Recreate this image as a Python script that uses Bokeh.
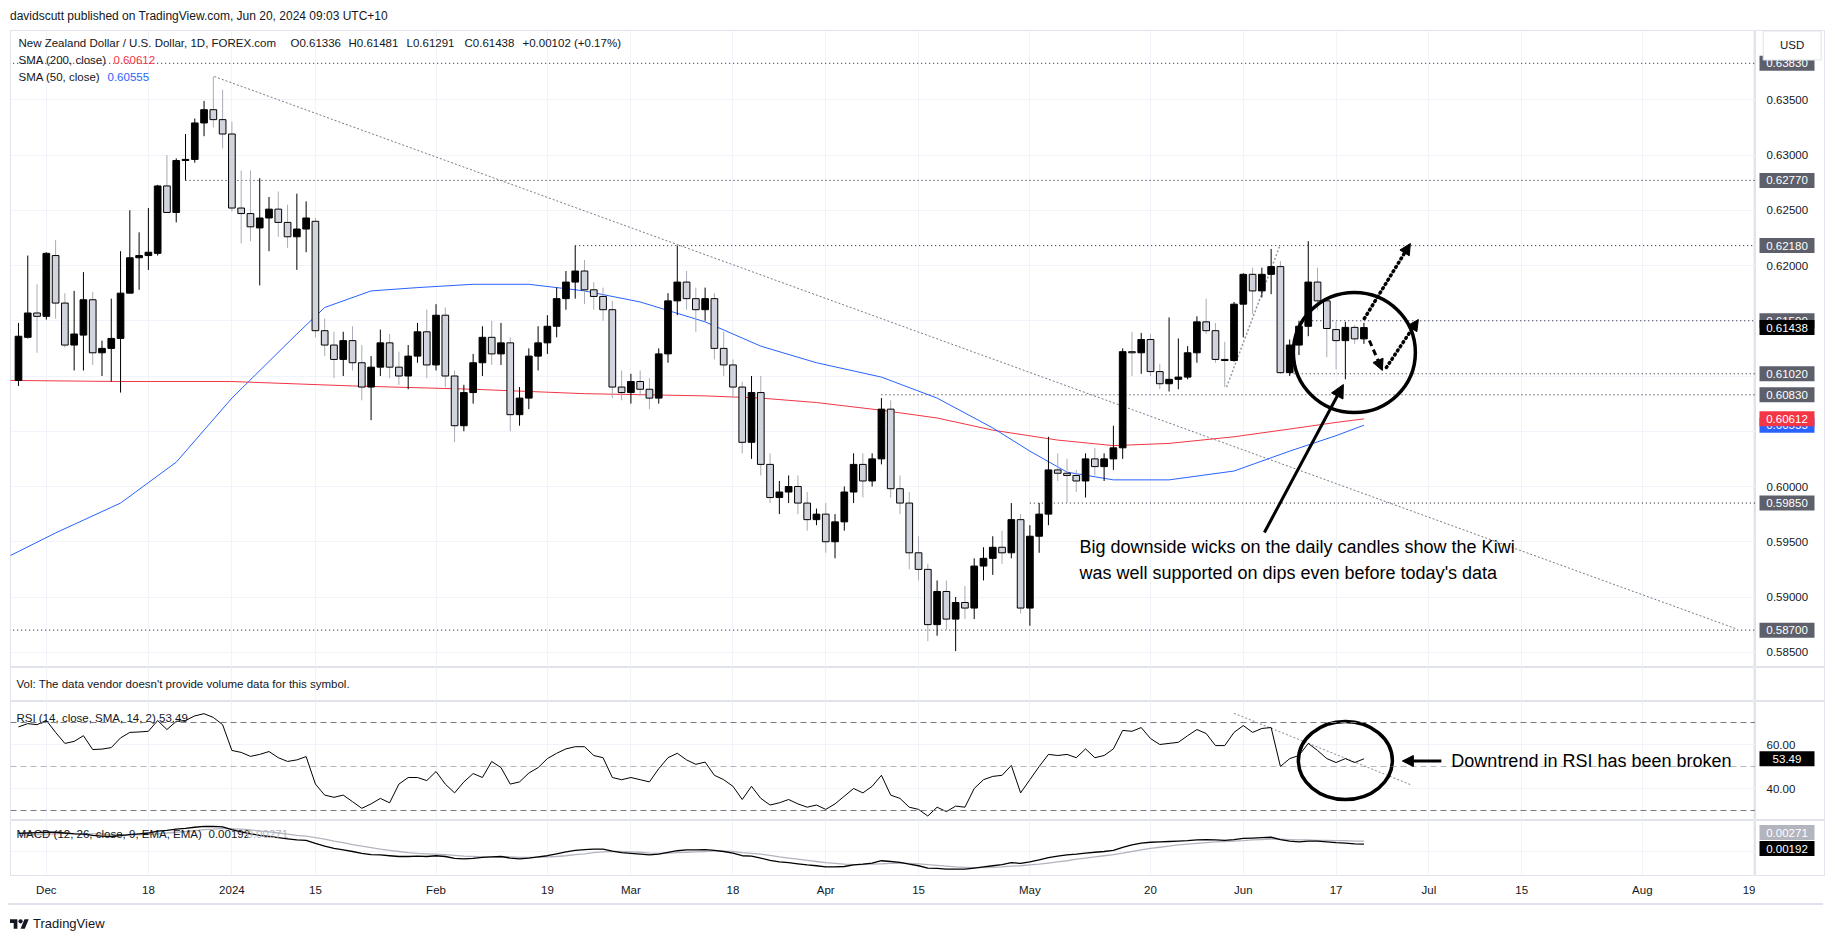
from bokeh.plotting import figure
from bokeh.layouts import column, row
from bokeh.models import (Range1d, Label, ColumnDataSource, FixedTicker, Div,
                          Arrow, NormalHead, Span)
from bokeh.core.properties import value
from bokeh.embed import file_html
from bokeh.resources import INLINE

# ---------------- data ----------------
bar_index = list(range(-3, 143))   # trading-day index, 0 = 1 Dec 2023

opens = [
    0.6096, 0.6135, 0.6157, 0.6154, 0.6209, 0.6166, 0.6128, 0.6137, 0.6169, 0.6121,
    0.6125, 0.6134, 0.6175, 0.6207, 0.6209, 0.6211, 0.6272, 0.6248, 0.6295, 0.6296,
    0.6329, 0.6341, 0.6332, 0.6319, 0.6252, 0.6247, 0.6234, 0.6243, 0.6251, 0.6239,
    0.6226, 0.6233, 0.6240, 0.6141, 0.6128, 0.6115, 0.6132, 0.6112, 0.6090, 0.6108,
    0.6130, 0.6108, 0.6100, 0.6118, 0.6140, 0.6110, 0.6155, 0.6100, 0.6055, 0.6085,
    0.6112, 0.6135, 0.6120, 0.6130, 0.6065, 0.6080, 0.6118, 0.6130, 0.6145, 0.6170,
    0.6185, 0.6195, 0.6178, 0.6172, 0.6160, 0.6090, 0.6085, 0.6095, 0.6088, 0.6080,
    0.6120, 0.6168, 0.6185, 0.6170, 0.6160, 0.6170, 0.6125, 0.6110, 0.6090, 0.6040,
    0.6085, 0.6020, 0.5990, 0.5995, 0.6000, 0.5985, 0.5970, 0.5975, 0.5950, 0.5968,
    0.5995, 0.6020, 0.6005, 0.6025, 0.6070, 0.5998, 0.5985, 0.5940, 0.5925, 0.5875,
    0.5905, 0.5880, 0.5895, 0.5890, 0.5928, 0.5935, 0.5945, 0.5940, 0.5970, 0.5890,
    0.5955, 0.5975, 0.6015, 0.6012, 0.6010, 0.6005, 0.6025, 0.6018, 0.6025, 0.6035,
    0.6122, 0.6121, 0.6133, 0.6104, 0.6093, 0.6097, 0.6099, 0.6121, 0.6149, 0.6141,
    0.6115, 0.6114, 0.6165, 0.6192, 0.6177, 0.6192, 0.6199, 0.6103, 0.6128, 0.6145,
    0.6185, 0.6168, 0.6142, 0.6132, 0.6144, 0.61336]

highs = [
    0.6148, 0.6209, 0.6183, 0.6212, 0.6223, 0.6175, 0.6177, 0.6194, 0.6176, 0.6132,
    0.6170, 0.6213, 0.6250, 0.6230, 0.6252, 0.6273, 0.6300, 0.6297, 0.6319, 0.6333,
    0.6349, 0.6371, 0.6359, 0.6330, 0.6286, 0.6286, 0.6279, 0.6262, 0.6267, 0.6255,
    0.6265, 0.6258, 0.6243, 0.6152, 0.6140, 0.6140, 0.6145, 0.6128, 0.6118, 0.6142,
    0.6138, 0.6122, 0.6128, 0.6148, 0.6160, 0.6165, 0.6162, 0.6105, 0.6092, 0.6120,
    0.6145, 0.6150, 0.6148, 0.6135, 0.6090, 0.6125, 0.6145, 0.6155, 0.6180, 0.6195,
    0.6218, 0.6205, 0.6185, 0.6180, 0.6168, 0.6105, 0.6102, 0.6105, 0.6098, 0.6125,
    0.6175, 0.6218, 0.6195, 0.6180, 0.6180, 0.6175, 0.6140, 0.6115, 0.6095, 0.6100,
    0.6100, 0.6030, 0.6005, 0.6010, 0.6010, 0.5995, 0.5980, 0.5985, 0.5975, 0.6000,
    0.6030, 0.6030, 0.6030, 0.6080, 0.6078, 0.6010, 0.5995, 0.5955, 0.5930, 0.5915,
    0.5915, 0.5900, 0.5910, 0.5935, 0.5945, 0.5955, 0.5960, 0.5985, 0.5975, 0.5965,
    0.5985, 0.6045, 0.6030, 0.6025, 0.6015, 0.6030, 0.6035, 0.6030, 0.6055, 0.6125,
    0.6140, 0.6139, 0.6138, 0.6111, 0.6153, 0.6134, 0.6127, 0.6154, 0.6170, 0.6148,
    0.6131, 0.6167, 0.6193, 0.6198, 0.6198, 0.6215, 0.6204, 0.6133, 0.6150, 0.6222,
    0.6198, 0.6170, 0.6149, 0.6149, 0.6146, 0.61481]

lows = [
    0.6091, 0.6134, 0.6121, 0.6151, 0.6152, 0.6126, 0.6105, 0.6105, 0.6110, 0.6100,
    0.6095, 0.6085, 0.6175, 0.6178, 0.6196, 0.6209, 0.6248, 0.6239, 0.6277, 0.6293,
    0.6317, 0.6325, 0.6306, 0.6249, 0.6220, 0.6222, 0.6182, 0.6213, 0.6226, 0.6216,
    0.6196, 0.6212, 0.6135, 0.6118, 0.6098, 0.6100, 0.6105, 0.6078, 0.6060, 0.6100,
    0.6098, 0.6092, 0.6088, 0.6112, 0.6098, 0.6105, 0.6090, 0.6040, 0.6050, 0.6075,
    0.6100, 0.6110, 0.6110, 0.6050, 0.6055, 0.6070, 0.6105, 0.6120, 0.6135, 0.6160,
    0.6170, 0.6165, 0.6160, 0.6150, 0.6080, 0.6078, 0.6075, 0.6082, 0.6070, 0.6075,
    0.6112, 0.6155, 0.6160, 0.6140, 0.6150, 0.6115, 0.6100, 0.6080, 0.6030, 0.6025,
    0.6010, 0.5985, 0.5975, 0.5985, 0.5975, 0.5960, 0.5965, 0.5940, 0.5935, 0.5960,
    0.5985, 0.5990, 0.6000, 0.6020, 0.5990, 0.5975, 0.5925, 0.5915, 0.5860, 0.5865,
    0.5870, 0.5851, 0.5880, 0.5880, 0.5915, 0.5920, 0.5930, 0.5935, 0.5885, 0.5874,
    0.5940, 0.5965, 0.6005, 0.5985, 0.5995, 0.5990, 0.6010, 0.6005, 0.6015, 0.6025,
    0.6100, 0.6102, 0.6100, 0.6088, 0.6086, 0.6088, 0.6097, 0.6112, 0.6138, 0.6112,
    0.6090, 0.6113, 0.6135, 0.6156, 0.6171, 0.6174, 0.6102, 0.6100, 0.6119, 0.6136,
    0.6160, 0.6117, 0.6106, 0.6097, 0.6129, 0.61291]

closes = [
    0.6136, 0.6157, 0.6154, 0.6211, 0.6166, 0.6128, 0.6138, 0.6169, 0.6121, 0.6125,
    0.6134, 0.6175, 0.6207, 0.6209, 0.6212, 0.6272, 0.6248, 0.6295, 0.6296, 0.6329,
    0.6341, 0.6332, 0.6319, 0.6252, 0.6247, 0.6235, 0.6243, 0.6251, 0.6239, 0.6226,
    0.6233, 0.6243, 0.6141, 0.6128, 0.6115, 0.6132, 0.6112, 0.6090, 0.6108, 0.6130,
    0.6108, 0.6100, 0.6118, 0.6140, 0.6110, 0.6155, 0.6100, 0.6055, 0.6085, 0.6112,
    0.6135, 0.6120, 0.6130, 0.6065, 0.6080, 0.6118, 0.6130, 0.6145, 0.6170, 0.6185,
    0.6195, 0.6178, 0.6172, 0.6160, 0.6090, 0.6085, 0.6095, 0.6088, 0.6080, 0.6120,
    0.6168, 0.6185, 0.6170, 0.6160, 0.6170, 0.6125, 0.6110, 0.6090, 0.6040, 0.6085,
    0.6020, 0.5990, 0.5995, 0.6000, 0.5985, 0.5970, 0.5975, 0.5950, 0.5968, 0.5995,
    0.6020, 0.6005, 0.6025, 0.6070, 0.5998, 0.5985, 0.5940, 0.5925, 0.5875, 0.5905,
    0.5880, 0.5895, 0.5890, 0.5928, 0.5935, 0.5945, 0.5940, 0.5970, 0.5890, 0.5955,
    0.5975, 0.6015, 0.6012, 0.6010, 0.6005, 0.6025, 0.6018, 0.6025, 0.6035, 0.6122,
    0.6121, 0.6133, 0.6104, 0.6093, 0.6097, 0.6099, 0.6121, 0.6149, 0.6141, 0.6115,
    0.6114, 0.6165, 0.6192, 0.6177, 0.6192, 0.6199, 0.6103, 0.6128, 0.6145, 0.6185,
    0.6168, 0.6143, 0.6132, 0.6144, 0.61336, 0.61438]

rsi = [
    68, 69.5, 69, 71, 65.5, 60.5, 61.4, 64, 57.7, 57.9,
    58.6, 63, 65.5, 65.7, 66, 70.9, 66.8, 70.5, 70.9, 73,
    74, 72.3, 69, 57.3, 56.4, 54.6, 55.5, 56.8, 54, 52.3,
    53, 54.5, 42, 37, 36, 37, 34, 31, 33, 35.5,
    33.5, 42, 45, 45, 43.6, 47.7, 42, 38, 43, 46.8,
    45, 52.3, 49.5, 42, 43, 47, 49.5, 53.6, 56, 58,
    59, 59, 55, 54, 45, 44, 45, 44, 43, 49,
    54, 56, 53, 51, 52, 46, 44, 41, 35, 41,
    35.5, 32.5, 33.5, 35, 33, 31.5, 32.5, 30.5, 33, 36.5,
    40, 38, 41, 46, 37, 35.5, 31.5, 30.5, 27.5, 31.5,
    29.5, 32, 31.5, 40, 44, 45.5, 46, 50.5, 38, 44,
    50, 55.5, 55, 55.5, 54, 58, 54, 55, 58, 66.4,
    66, 67.7, 62.7, 60, 60.5, 61, 64, 66.8, 65, 59.5,
    59.5, 65.5, 68.6, 65.5, 67.3, 67.7, 50, 53.6, 55, 60.5,
    57.3, 53.6, 51.8, 53.6, 51.8, 53.49]

macd_line = [
    0.0047, 0.0048, 0.0049, 0.0050, 0.0050, 0.0048, 0.0046, 0.0045, 0.0042, 0.0040,
    0.0039, 0.0041, 0.0044, 0.0046, 0.0048, 0.0053, 0.0055, 0.0058, 0.0060, 0.0063,
    0.0065, 0.0065, 0.0064, 0.0057, 0.0051, 0.0046, 0.0042, 0.0039, 0.0036, 0.0033,
    0.0030, 0.0029, 0.0021, 0.0014, 0.0008, 0.0004, 0.0000, -0.0005, -0.0008, -0.0009,
    -0.0011, -0.0013, -0.0013, -0.0012, -0.0013, -0.0011, -0.0013, -0.0018, -0.0019, -0.0018,
    -0.0015, -0.0014, -0.0013, -0.0017, -0.0019, -0.0017, -0.0014, -0.0011, -0.0006, -0.0001,
    0.0003, 0.0005, 0.0006, 0.0006, 0.0001, -0.0003, -0.0005, -0.0007, -0.0009, -0.0007,
    -0.0002, 0.0002, 0.0004, 0.0004, 0.0005, 0.0003, 0.0000, -0.0004, -0.0011, -0.0012,
    -0.0017, -0.0023, -0.0027, -0.0029, -0.0032, -0.0035, -0.0037, -0.0040, -0.0040, -0.0039,
    -0.0035, -0.0033, -0.0030, -0.0024, -0.0026, -0.0028, -0.0033, -0.0037, -0.0043, -0.0044,
    -0.0046, -0.0046, -0.0046, -0.0043, -0.0040, -0.0037, -0.0034, -0.0029, -0.0031, -0.0027,
    -0.0022, -0.0016, -0.0012, -0.0009, -0.0007, -0.0004, -0.0002, 0.0000, 0.0003, 0.0011,
    0.0017, 0.0022, 0.0024, 0.0025, 0.0026, 0.0027, 0.0028, 0.0030, 0.0031, 0.0030,
    0.0029, 0.0031, 0.0034, 0.0035, 0.0036, 0.0037, 0.0031, 0.0027, 0.0025, 0.0027,
    0.0027, 0.0025, 0.0023, 0.0022, 0.0020, 0.00192]

macd_signal = [
    0.0042, 0.0043, 0.0044, 0.0045, 0.0046, 0.0047, 0.0047, 0.0046, 0.0046, 0.0045,
    0.0044, 0.0043, 0.0043, 0.0044, 0.0044, 0.0046, 0.0048, 0.0050, 0.0052, 0.0054,
    0.0057, 0.0058, 0.0060, 0.0059, 0.0058, 0.0056, 0.0053, 0.0051, 0.0048, 0.0045,
    0.0042, 0.0040, 0.0036, 0.0032, 0.0027, 0.0023, 0.0018, 0.0014, 0.0010, 0.0006,
    0.0003, 0.0000, -0.0003, -0.0005, -0.0006, -0.0007, -0.0008, -0.0010, -0.0012, -0.0013,
    -0.0014, -0.0014, -0.0014, -0.0014, -0.0015, -0.0015, -0.0015, -0.0014, -0.0013, -0.0011,
    -0.0008, -0.0006, -0.0003, -0.0001, 0.0000, 0.0000, -0.0001, -0.0002, -0.0004, -0.0005,
    -0.0004, -0.0003, -0.0002, -0.0001, 0.0000, 0.0001, 0.0001, 0.0000, -0.0003, -0.0005,
    -0.0007, -0.0010, -0.0014, -0.0017, -0.0020, -0.0023, -0.0026, -0.0029, -0.0031, -0.0033,
    -0.0034, -0.0034, -0.0033, -0.0032, -0.0031, -0.0030, -0.0031, -0.0032, -0.0034, -0.0036,
    -0.0038, -0.0040, -0.0041, -0.0042, -0.0042, -0.0041, -0.0040, -0.0038, -0.0037, -0.0035,
    -0.0033, -0.0030, -0.0027, -0.0024, -0.0020, -0.0017, -0.0014, -0.0011, -0.0008, -0.0004,
    0.0000, 0.0004, 0.0008, 0.0011, 0.0014, 0.0017, 0.0019, 0.0021, 0.0023, 0.0025,
    0.0026, 0.0027, 0.0028, 0.0030, 0.0031, 0.0032, 0.0032, 0.0031, 0.0030, 0.0030,
    0.0029, 0.0029, 0.0028, 0.0028, 0.0027, 0.00271]

sma200_idx = [-4, 8, 20, 33, 46, 58, 71, 77, 83, 90, 96, 102, 109, 115, 121, 128, 134, 139, 142]
sma200 = [0.6096, 0.6095, 0.6095, 0.6091, 0.6088, 0.6084, 0.6082, 0.6080, 0.6076, 0.6069,
          0.6062, 0.6051, 0.6042, 0.6037, 0.6039, 0.6045, 0.6052, 0.6058, 0.60612]

sma50_idx = [-4, 1, 8, 14, 20, 27, 30, 35, 40, 46, 52, 58, 64, 71, 77, 83, 90, 96,
             102, 106, 110, 115, 121, 128, 134, 139, 142]
sma50 = [0.5937, 0.5958, 0.5985, 0.6022, 0.6080, 0.6138, 0.6162, 0.6177, 0.6180, 0.6183,
         0.6183, 0.6177, 0.6167, 0.6149, 0.6127, 0.6112, 0.6099, 0.6080, 0.6053, 0.6032,
         0.6013, 0.6006, 0.6006, 0.6014, 0.6032, 0.6046, 0.60555]

date_ticks = [0, 11, 20, 29, 42, 54, 63, 74, 84, 94, 106, 119, 129, 139, 149, 159, 172, 184]
date_labels = ["Dec", "18", "2024", "15", "Feb", "19", "Mar", "18", "Apr", "15",
               "May", "20", "Jun", "17", "Jul", "15", "Aug", "19"]

price_grid = [0.585, 0.59, 0.595, 0.6, 0.605, 0.61, 0.615, 0.62, 0.625, 0.63, 0.635]
price_ticks_shown = [0.585, 0.59, 0.595, 0.6, 0.62, 0.625, 0.63, 0.635]
price_tick_text = ["0.58500", "0.59000", "0.59500", "0.60000", "0.62000", "0.62500",
                   "0.63000", "0.63500"]

level_prices = [0.6383, 0.6277, 0.6218, 0.6150, 0.6102, 0.6083, 0.5985, 0.5870]
level_from = [-4, 15, 57, 136, 134, 90, 106, -4]
level_text = ["0.63830", "0.62770", "0.62180", "0.61500", "0.61020", "0.60830", "0.59850", "0.58700"]

trend_idx = [18.1, 182.2]
trend_px = [0.6371, 0.5871]
trend2_idx = [127.2, 132.9]
trend2_px = [0.6090, 0.6217]
rsi_trend_idx = [128.0, 147.0]
rsi_trend_val = [74.2, 41.8]

rsi_ticks = [40, 60]
rsi_tick_text = ["40.00", "60.00"]
rsi_bands = [70, 50, 30]
macd_ticks = [0.0]
macd_tick_text = ["0.00000"]

last_close = 0.61438
sma200_last = 0.60612
sma50_last = 0.60555
rsi_last = 53.49
macd_last = 0.00192
signal_last = 0.00271

# ---------------- style / geometry ----------------
TEXT = "#131722"
GRID = "#f0f3fa"
BORDER = "#e0e3eb"
UI_FONT = "Liberation Sans"
PAGE_W = 1817
AXIS_W = 70
LEFT_B = 2
X_START, X_END = -3.86, 184.2


def bx(px):   # reference pixel column -> bar index
    return (px - 45.8) / 9.28


def py(px):   # main pane pixel row -> price
    return 0.6 + (486 - px) / 11050


def ry(px):   # rsi pane pixel row -> rsi
    return 60 + (744 - px) / 2.2


def my(px):   # macd pane pixel row -> macd
    return (851 - px) / 3850


x_range = Range1d(X_START, X_END)


def pane(height, y_range, bottom=0, **kw):
    f = figure(width=PAGE_W - AXIS_W, height=height, x_range=x_range, y_range=y_range,
               output_backend="svg", toolbar_location=None,
               min_border_left=LEFT_B, min_border_right=0,
               min_border_top=0, min_border_bottom=bottom,
               background_fill_color="white", border_fill_color="white",
               outline_line_color=BORDER, y_axis_location=None, **kw)
    f.xgrid.ticker = FixedTicker(ticks=date_ticks)
    f.xgrid.grid_line_color = GRID
    f.ygrid.grid_line_color = GRID
    return f


def scale(height, y_range, bottom=0):
    f = figure(width=AXIS_W, height=height, x_range=Range1d(0, AXIS_W), y_range=y_range,
               output_backend="svg", toolbar_location=None,
               min_border_left=0, min_border_right=0, min_border_top=0,
               min_border_bottom=bottom, x_axis_location=None, y_axis_location=None,
               background_fill_color="white", border_fill_color="white",
               outline_line_color=BORDER)
    f.xgrid.visible = False
    f.ygrid.visible = False
    return f


def scale_ticks(f, ticks, texts):
    f.text(x=[11] * len(ticks), y=ticks, text=texts, text_font=value(UI_FONT),
           text_font_size="11.5px", text_color=TEXT, text_baseline="middle",
           text_align="left")


def tag(f, yv, text, bg, fg="#ffffff"):
    f.rect(x=[31.5], y=[yv], width=[55], height=[15], height_units="screen",
           fill_color=bg, line_color=None)
    f.text(x=[31.5], y=[yv], text=[text], text_font=value(UI_FONT),
           text_font_size="11.5px", text_color=fg, text_baseline="middle",
           text_align="center")


def txt(fig, x, y, text, color=TEXT, size="11.5px", x_offset=0):
    fig.add_layout(Label(x=x, y=y, x_offset=x_offset, text=text, text_align="left",
                         text_baseline="middle", text_font=UI_FONT, text_font_size=size,
                         text_color=color))


# ---------------- main pane ----------------
main_y = Range1d(py(667), py(30))
p = pane(637, main_y, x_axis_location=None)
p.ygrid.ticker = FixedTicker(ticks=price_grid)

for lv, start in zip(level_prices, level_from):
    p.segment(x0=[start], y0=[lv], x1=[X_END + 1], y1=[lv], line_color="#131722",
              line_dash="1 3", line_width=1)

p.line(trend_idx, trend_px, line_color="#787b86", line_dash="2 2", line_width=1)
p.line(trend2_idx, trend2_px, line_color="#9598a1", line_dash="2 2", line_width=1.5)

p.line(sma200_idx, sma200, line_color="#f23645", line_width=1)
p.line(sma50_idx, sma50, line_color="#2962ff", line_width=1)

up = [c >= o for o, c in zip(opens, closes)]
src = ColumnDataSource(dict(
    x=bar_index, h=highs, l=lows,
    top=[max(o, c) for o, c in zip(opens, closes)],
    bottom=[min(o, c) for o, c in zip(opens, closes)],
    fill=["#000000" if u else "#d1d4dc" for u in up],
    wick=["#000000" if u else "#a9acb5" for u in up]))
p.segment(x0="x", y0="l", x1="x", y1="h", line_color="wick", line_width=1, source=src)
p.vbar(x="x", width=0.72, top="top", bottom="bottom", fill_color="fill",
       line_color="#000000", line_width=1, source=src)

p.ellipse(x=[bx(1354)], y=[py(352)], width=[122 / 9.28], height=[120 / 11050],
          fill_color=None, line_color="#000000", line_width=3.5)
p.add_layout(Arrow(end=NormalHead(size=13, fill_color="black", line_color="black"),
                   x_start=bx(1264), y_start=py(532), x_end=bx(1343), y_end=py(384),
                   line_width=3, line_color="black"))
p.add_layout(Arrow(end=NormalHead(size=11, fill_color="black", line_color="black"),
                   x_start=bx(1364), y_start=py(318), x_end=bx(1410), y_end=py(243),
                   line_width=3.5, line_color="black", line_dash="1 4", line_cap="round"))
p.add_layout(Arrow(end=NormalHead(size=11, fill_color="black", line_color="black"),
                   x_start=bx(1369), y_start=py(340), x_end=bx(1382), y_end=py(370),
                   line_width=3, line_color="black", line_dash="6 4"))
p.add_layout(Arrow(end=NormalHead(size=11, fill_color="black", line_color="black"),
                   x_start=bx(1386), y_start=py(367), x_end=bx(1418), y_end=py(319),
                   line_width=3.5, line_color="black", line_dash="1 4", line_cap="round"))
txt(p, bx(1079), py(546), "Big downside wicks on the daily candles show the Kiwi",
    color="#000000", size="18px")
txt(p, bx(1079), py(572), "was well supported on dips even before today's data",
    color="#000000", size="18px")

txt(p, X_START, py(42), "New Zealand Dollar / U.S. Dollar, 1D, FOREX.com", x_offset=8)
txt(p, X_START, py(42), "O0.61336", x_offset=280)
txt(p, X_START, py(42), "H0.61481", x_offset=338)
txt(p, X_START, py(42), "L0.61291", x_offset=396)
txt(p, X_START, py(42), "C0.61438", x_offset=454)
txt(p, X_START, py(42), "+0.00102 (+0.17%)", x_offset=512)
txt(p, X_START, py(59), "SMA (200, close)", x_offset=8)
txt(p, X_START, py(59), "0.60612", color="#f23645", x_offset=103)
txt(p, X_START, py(76), "SMA (50, close)", x_offset=8)
txt(p, X_START, py(76), "0.60555", color="#2962ff", x_offset=97)

# price scale
ps = scale(637, main_y)
scale_ticks(ps, price_ticks_shown, price_tick_text)
LABEL_GREY = "#5d606b"
low_group = ("0.61020", "0.60830", "0.59850", "0.58700")
for lv, t in zip(level_prices, level_text):
    if t not in low_group:
        tag(ps, lv, t, LABEL_GREY)
tag(ps, last_close, "0.61438", "#000000")
for lv, t in zip(level_prices, level_text):
    if t in low_group:
        tag(ps, lv, t, LABEL_GREY)
tag(ps, sma50_last, "0.60555", "#2962ff")
tag(ps, sma200_last, "0.60612", "#f23645")
ps.rect(x=[36.7], y=[py(45)], width=[58], height=[29], height_units="screen",
        fill_color="white", line_color=BORDER, line_width=1)
ps.text(x=[36.7], y=[py(44)], text=["USD"], text_font=value(UI_FONT),
        text_font_size="11.5px", text_color=TEXT, text_baseline="middle", text_align="center")

# ---------------- volume pane ----------------
pv = pane(34, Range1d(0, 1), x_axis_location=None)
pv.ygrid.visible = False
txt(pv, X_START, 1 - 16 / 34, "Vol: The data vendor doesn't provide volume data for this symbol.",
    x_offset=6)
pvs = scale(34, Range1d(0, 1))

# ---------------- RSI pane ----------------
rsi_y = Range1d(ry(820), ry(701))
pr = pane(119, rsi_y, x_axis_location=None)
pr.ygrid.ticker = FixedTicker(ticks=rsi_ticks)
for b in rsi_bands:
    pr.add_layout(Span(location=b, dimension="width", line_color="#787b86",
                       line_alpha=0.55 if b == 50 else 1.0, line_dash="6 4", line_width=1))
pr.line(rsi_trend_idx, rsi_trend_val, line_color="#9598a1", line_dash="2 2", line_width=1.2)
pr.line(bar_index, rsi, line_color="#000000", line_width=1)
pr.ellipse(x=[bx(1345)], y=[ry(760)], width=[94 / 9.28], height=[78 / 2.2],
           fill_color=None, line_color="#000000", line_width=3.5)
pr.add_layout(Arrow(end=NormalHead(size=11, fill_color="black", line_color="black"),
                    x_start=bx(1441), y_start=ry(760.5), x_end=bx(1402), y_end=ry(760.5),
                    line_width=3, line_color="black"))
txt(pr, bx(1451), ry(760.5), "Downtrend in RSI has been broken", color="#000000", size="18px")
txt(pr, X_START, ry(717), "RSI (14, close, SMA, 14, 2)   53.49", x_offset=6)
prs = scale(119, rsi_y)
scale_ticks(prs, rsi_ticks, rsi_tick_text)
tag(prs, rsi_last, "53.49", "#000000")

# ---------------- MACD pane ----------------
macd_y = Range1d(my(875), my(820))
pm = pane(55 + 28, macd_y, bottom=28, x_axis_location="below")
pm.xaxis.ticker = FixedTicker(ticks=date_ticks)
pm.xaxis.major_label_overrides = {t: l for t, l in zip(date_ticks, date_labels)}
pm.xaxis.major_tick_line_color = None
pm.xaxis.minor_tick_line_color = None
pm.xaxis.major_tick_out = 0
pm.xaxis.major_tick_in = 0
pm.xaxis.minor_tick_out = 0
pm.xaxis.minor_tick_in = 0
pm.xaxis.axis_line_color = None
pm.xaxis.major_label_text_font = UI_FONT
pm.xaxis.major_label_text_font_size = "11.5px"
pm.xaxis.major_label_text_color = TEXT
pm.xaxis.major_label_standoff = 8
pm.ygrid.ticker = FixedTicker(ticks=macd_ticks)
pm.line(bar_index, macd_signal, line_color="#b2b5be", line_width=1.3)
pm.line(bar_index, macd_line, line_color="#000000", line_width=1.3)
txt(pm, X_START, my(833), "MACD (12, 26, close, 9, EMA, EMA)", x_offset=6)
txt(pm, X_START, my(833), "0.00192", x_offset=198)
txt(pm, X_START, my(833), "0.00271", color="#b2b5be", x_offset=236)
pms = scale(55 + 28, macd_y, bottom=28)
scale_ticks(pms, macd_ticks, macd_tick_text)
tag(pms, my(832), "0.00271", "#b2b5be")
tag(pms, my(848), "0.00192", "#000000")

# ---------------- header / footer ----------------
header = Div(text='<div style="padding-left:2px;line-height:14px;">davidscutt published on '
                  'TradingView.com, Jun 20, 2024 09:03 UTC+10</div>',
             width=PAGE_W, height=22, margin=0,
             styles={"font-family": UI_FONT, "font-size": "12px", "color": TEXT})
logo_svg = ('<svg width="19" height="14" viewBox="0 0 36 26" style="margin-right:4px">'
            '<path d="M14 22H7V11H0V4h14v18z" fill="#131722"/>'
            '<circle cx="20" cy="8" r="4" fill="#131722"/>'
            '<path d="M28 22h-8l7.5-18h8L28 22z" fill="#131722"/></svg>')
footer = Div(text='<div style="border-top:2px solid #e0e3eb;width:1815px;"></div>'
                  '<div style="display:flex;align-items:center;padding-left:2px;padding-top:10px;">'
                  + logo_svg + '<span>TradingView</span></div>',
             width=PAGE_W, height=30, margin=0,
             styles={"font-family": UI_FONT, "font-size": "13px", "color": TEXT})

layout = column(header, row(p, ps), row(pv, pvs), row(pr, prs), row(pm, pms), footer,
                margin=(8, 8, 8, 8))
open("out.html", "w").write(file_html(layout, INLINE))
